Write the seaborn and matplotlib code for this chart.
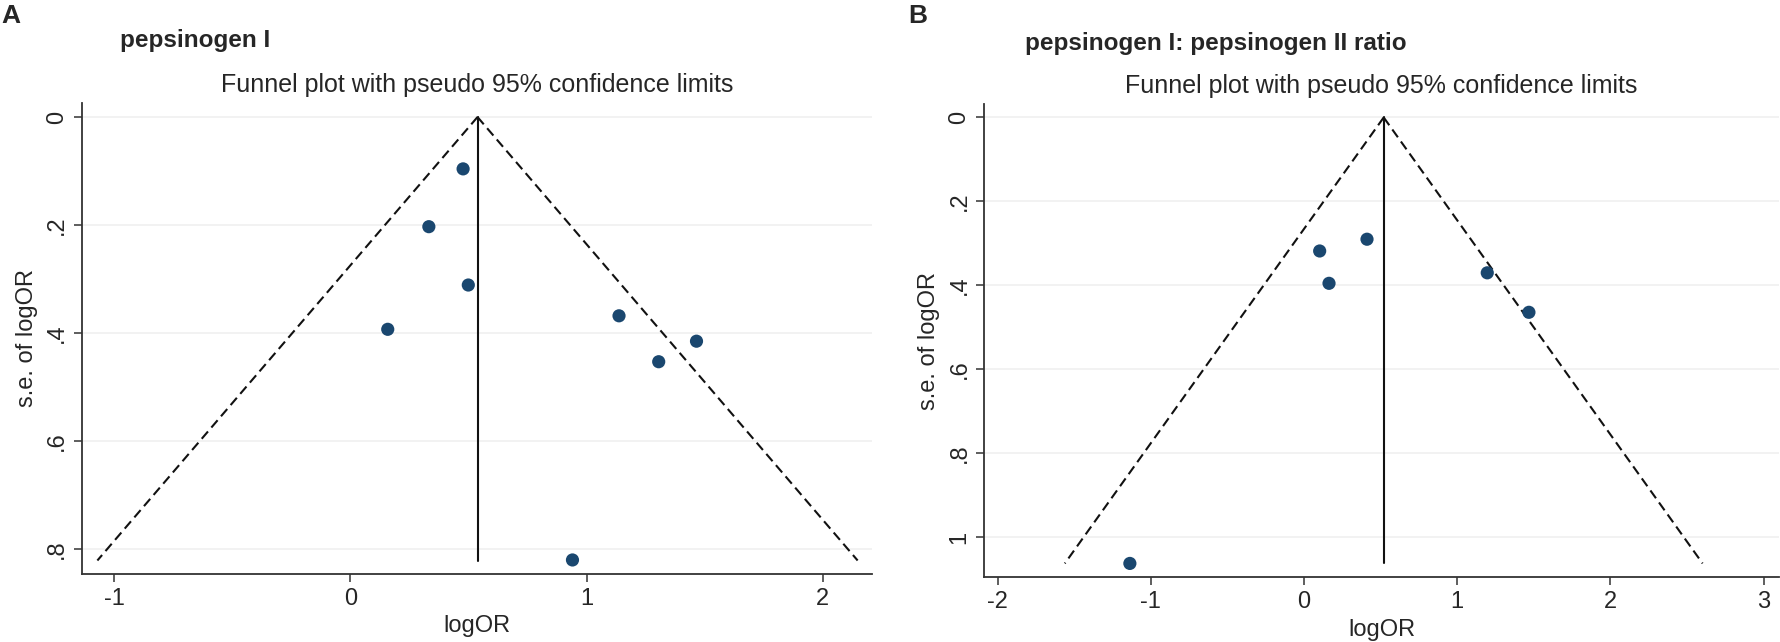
import numpy as np
import pandas as pd
import seaborn as sns
import matplotlib.pyplot as plt

# panel A: pepsinogen I
logor_a = [0.477, 0.332, 0.499, 0.158, 1.137, 1.465, 1.305, 0.940]
se_a = [0.096, 0.203, 0.311, 0.393, 0.368, 0.415, 0.453, 0.820]
pooled_a = 0.538
semax_a = 0.821
yticks_a = [0, 0.2, 0.4, 0.6, 0.8]
yticklabels_a = ['0', '.2', '.4', '.6', '.8']
xticks_a = [-1, 0, 1, 2]

# panel B: PGI/PGII ratio
logor_b = [0.102, 0.411, 0.163, 1.196, 1.468, -1.137]
se_b = [0.318, 0.290, 0.395, 0.370, 0.464, 1.062]
pooled_b = 0.520
semax_b = 1.062
yticks_b = [0, 0.2, 0.4, 0.6, 0.8, 1.0]
yticklabels_b = ['0', '.2', '.4', '.6', '.8', '1']
xticks_b = [-2, -1, 0, 1, 2, 3]

sns.set_style('white')
plt.rcParams['font.family'] = ['Liberation Sans', 'DejaVu Sans']

fig = plt.figure(figsize=(17.8, 6.42), dpi=100)
ax1 = fig.add_axes([0.0461, 0.1059, 0.4438, 0.7337])
ax2 = fig.add_axes([0.5530, 0.1008, 0.4464, 0.7372])

navy = '#1a476f'


def funnel(ax, x, se, pooled, semax, xlim, ylim, xticks, yticks, ylabels):
    df = pd.DataFrame({'logOR': x, 'se': se})
    s = np.array([0, semax])
    ax.plot([pooled, pooled], s, color='#111111', lw=1.5)
    ax.plot(pooled - 1.96 * s, s, color='#111111', lw=1.5, dashes=(4.6, 2.5))
    ax.plot(pooled + 1.96 * s, s, color='#111111', lw=1.5, dashes=(4.6, 2.5))
    sns.scatterplot(data=df, x='logOR', y='se', ax=ax, color=navy, s=90,
                    edgecolor='none', zorder=3)
    ax.set_xlim(*xlim)
    ax.set_ylim(*ylim)
    ax.set_xticks(xticks)
    ax.set_xticklabels([str(t) for t in xticks])
    ax.set_yticks(yticks)
    ax.set_yticklabels(ylabels, rotation=90, va='center')
    ax.yaxis.grid(True, color='#f0f0f0', lw=1.2)
    ax.set_axisbelow(True)
    sns.despine(ax=ax)
    for sp in ['left', 'bottom']:
        ax.spines[sp].set_color('#333333')
        ax.spines[sp].set_linewidth(1.3)
    ax.tick_params(axis='both', which='both', direction='out', length=6,
                   width=1.1, color='#333333', labelsize=17, pad=4,
                   left=True, bottom=True)
    ax.set_xlabel('logOR', fontsize=17, labelpad=4)
    ax.set_ylabel('s.e. of logOR', fontsize=17, labelpad=6)


funnel(ax1, logor_a, se_a, pooled_a, semax_a, (-1.136, 2.208), (0.846, -0.026),
       xticks_a, yticks_a, yticklabels_a)
funnel(ax2, logor_b, se_b, pooled_b, semax_b, (-2.087, 3.10), (1.095, -0.032),
       xticks_b, yticks_b, yticklabels_b)

ax1.set_title('Funnel plot with pseudo 95% confidence limits', fontsize=18, pad=8)
ax2.set_title('Funnel plot with pseudo 95% confidence limits', fontsize=18, pad=8)

fig.text(0.0005, 1 - 4 / 642, 'A', fontsize=19, fontweight='bold', va='top')
fig.text(908 / 1780, 1 - 4 / 642, 'B', fontsize=19, fontweight='bold', va='top')
fig.text(120 / 1780, 1 - 47 / 642, 'pepsinogen I', fontsize=17.5,
         fontweight='bold', va='baseline')
fig.text(1025 / 1780, 1 - 50 / 642, 'pepsinogen I: pepsinogen II ratio',
         fontsize=17.5, fontweight='bold', va='baseline')

fig.savefig('out.png', dpi=100)
